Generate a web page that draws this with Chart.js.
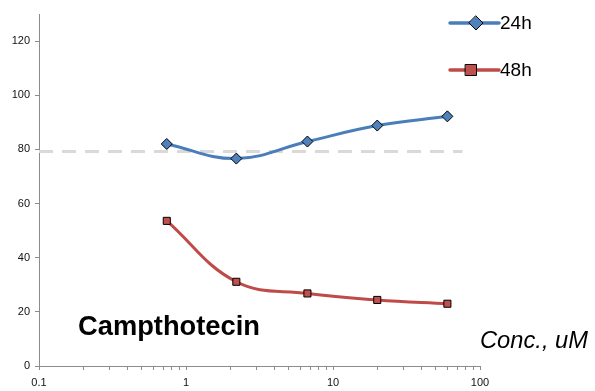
<!DOCTYPE html>
<html><head><meta charset="utf-8">
<script src="https://cdn.jsdelivr.net/npm/chart.js@4/dist/chart.umd.min.js"></script>
<style>html,body{margin:0;padding:0;background:#fff;}#wrap{width:595px;height:391px;}</style>
</head><body><div id="wrap"><canvas id="c" width="595" height="391"></canvas></div>
<script>
const concentrations = [0.74, 2.2, 6.7, 20, 60];
const series24h = [82, 76.6, 82.9, 88.8, 92.2];
const series48h = [53.6, 31.1, 26.8, 24.4, 23];
const referenceLevel = 79.2;
const referenceRange = [0.1, 76];
const xTickLabels = [0.1, 1, 10, 100];
const yTickLabels = [0, 20, 40, 60, 80, 100, 120];
const seriesNames = ['24h', '48h'];
const chartTitle = 'Campthotecin';
const axisTitle = 'Conc., uM';

const blue = '#4a7ebb', red = '#be4b48';

const overlay = {
  id: 'overlay',
  afterDraw(chart) {
    const ctx = chart.ctx;
    ctx.save();
    const items = [
      {name: seriesNames[0], color: blue, fill: '#4f81bd', style: 'rectRot', y: 23, mx: 476},
      {name: seriesNames[1], color: red, fill: '#c0504d', style: 'rect', y: 70, mx: 471}
    ];
    items.forEach(it => {
      ctx.strokeStyle = it.color; ctx.lineWidth = 3.5; ctx.lineCap = 'round';
      ctx.beginPath(); ctx.moveTo(450, it.y); ctx.lineTo(499, it.y); ctx.stroke();
      ctx.fillStyle = it.fill; ctx.strokeStyle = '#000'; ctx.lineWidth = 1;
      ctx.beginPath();
      if (it.style === 'rectRot') {
        ctx.moveTo(it.mx, it.y - 7); ctx.lineTo(it.mx + 7, it.y); ctx.lineTo(it.mx, it.y + 7); ctx.lineTo(it.mx - 7, it.y); ctx.closePath();
      } else {
        ctx.rect(it.mx - 5.5, it.y - 5.5, 11, 11);
      }
      ctx.fill(); ctx.stroke();
      ctx.fillStyle = '#000'; ctx.font = '19px "Liberation Sans", Arial, sans-serif';
      ctx.textBaseline = 'middle'; ctx.textAlign = 'left';
      ctx.fillText(it.name, 500, it.y + 1);
    });
    let fs = 24;
    ctx.font = 'bold ' + fs + 'px "Liberation Sans", Arial, sans-serif';
    let w = ctx.measureText(chartTitle).width;
    fs = fs * 182 / w;
    ctx.font = 'bold ' + fs.toFixed(1) + 'px "Liberation Sans", Arial, sans-serif';
    ctx.textBaseline = 'middle'; ctx.textAlign = 'left';
    ctx.fillText(chartTitle, 78, 327);
    fs = 19;
    ctx.font = 'italic ' + fs + 'px "Liberation Sans", Arial, sans-serif';
    w = ctx.measureText(axisTitle).width;
    fs = fs * 108 / w;
    ctx.font = 'italic ' + fs.toFixed(1) + 'px "Liberation Sans", Arial, sans-serif';
    ctx.fillText(axisTitle, 480, 341);
    ctx.restore();
  }
};

new Chart(document.getElementById('c'), {
  type: 'line',
  data: {
    datasets: [
      {
        label: 'ref',
        data: referenceRange.map(x => ({x, y: referenceLevel})),
        borderColor: '#d9d9d9', borderWidth: 3, borderDash: [14, 9],
        pointRadius: 0, tension: 0, clip: false, order: 3
      },
      {
        label: seriesNames[0],
        data: concentrations.map((x, i) => ({x, y: series24h[i]})),
        borderColor: blue, borderWidth: 3, tension: 0.4,
        pointStyle: 'rectRot', pointRadius: 5.5, pointBackgroundColor: '#4f81bd',
        pointBorderColor: '#000', pointBorderWidth: 1, order: 1
      },
      {
        label: seriesNames[1],
        data: concentrations.map((x, i) => ({x, y: series48h[i]})),
        borderColor: red, borderWidth: 3, tension: 0.4,
        pointStyle: 'rect', pointRadius: 5, pointBackgroundColor: '#c0504d',
        pointBorderColor: '#000', pointBorderWidth: 1, order: 2
      }
    ]
  },
  options: {
    responsive: false, animation: false,
    layout: {padding: {top: 14, right: 115, left: 0, bottom: 0}},
    plugins: {legend: {display: false}, tooltip: {enabled: false}},
    scales: {
      x: {
        type: 'logarithmic', min: 0.1, max: 100,
        afterBuildTicks(scale) {
          const t = [];
          for (let d = 0.1; d < 100; d *= 10) for (let k = 1; k < 10; k++) t.push({value: +(d * k).toPrecision(3)});
          t.push({value: 100});
          scale.ticks = t;
        },
        afterFit(scale) { scale.height = 25; },
        ticks: {
          autoSkip: false, maxRotation: 0, padding: 6,
          color: '#111', font: {family: '"Liberation Sans", Arial, sans-serif', size: 11},
          callback(v) { return xTickLabels.includes(+(+v).toPrecision(3)) ? String(+(+v).toPrecision(3)) : ''; }
        },
        grid: {drawOnChartArea: false, drawTicks: true, tickLength: 4, color: '#8c8c8c'},
        border: {display: true, color: '#8c8c8c', width: 1}
      },
      y: {
        min: 0, max: 130,
        afterBuildTicks(scale) { scale.ticks = yTickLabels.map(v => ({value: v})); },
        afterFit(scale) { scale.width = 39; },
        ticks: {
          color: '#111', padding: 5,
          font: {family: '"Liberation Sans", Arial, sans-serif', size: 11}
        },
        grid: {drawOnChartArea: false, drawTicks: true, tickLength: 4, color: '#8c8c8c'},
        border: {display: true, color: '#8c8c8c', width: 1}
      }
    }
  },
  plugins: [overlay]
});
</script></body></html>
